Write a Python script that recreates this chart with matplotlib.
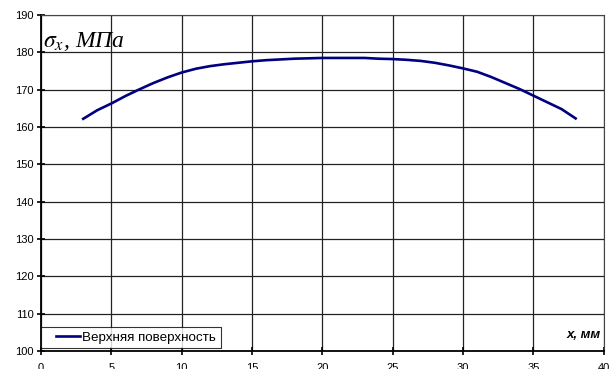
import matplotlib
matplotlib.use("Agg")
from matplotlib import pyplot as plt
from matplotlib.legend_handler import HandlerLine2D

plt.rcParams['font.family'] = ['Liberation Sans', 'DejaVu Sans']
plt.rcParams['mathtext.fontset'] = 'stix'

# напряжения на верхней поверхности
x_mm = list(range(3, 39))
sigma = [162.2, 164.5, 166.3, 168.3, 170.1, 171.8, 173.3, 174.6, 175.6, 176.3,
         176.8, 177.2, 177.6, 177.9, 178.1, 178.3, 178.4, 178.5, 178.5, 178.5,
         178.5, 178.3, 178.2, 178.0, 177.7, 177.2, 176.5, 175.7, 174.8, 173.4,
         171.8, 170.2, 168.4, 166.6, 164.8, 162.3]
xticks = [0, 5, 10, 15, 20, 25, 30, 35, 40]
yticks = [100, 110, 120, 130, 140, 150, 160, 170, 180, 190]

fig = plt.figure(figsize=(6.15, 3.69), dpi=100)
ax = fig.add_axes([0.0667, 0.0488, 0.915, 0.9105])

line, = ax.plot(x_mm, sigma, color='#000080', lw=1.9, label='Верхняя поверхность')

ax.set_xlim(0, 40)
ax.set_ylim(100, 190)
ax.set_xticks(xticks)
ax.set_yticks(yticks)
ax.grid(True, color='#222222', lw=0.9)
ax.set_axisbelow(True)
for s in ['top', 'right']:
    ax.spines[s].set_color('#444444')
    ax.spines[s].set_linewidth(0.8)
for s in ['left', 'bottom']:
    ax.spines[s].set_color('black')
    ax.spines[s].set_linewidth(1.3)
ax.tick_params(direction='inout', length=6, width=1.2, labelsize=8, pad=2)
ax.tick_params(axis='x', pad=6)

ax.text(0.004, 0.905, r'$\sigma_x$, МПа', transform=ax.transAxes,
        family=['Liberation Serif'], style='italic', fontsize=17)
ax.text(0.995, 0.03, 'x, мм', transform=ax.transAxes, ha='right', va='bottom',
        fontsize=9.5, fontweight='bold', style='italic')

leg = ax.legend(loc='lower left', bbox_to_anchor=(0, 0.008), fontsize=9.6,
                frameon=True, fancybox=False, borderaxespad=0,
                handlelength=2.6, handletextpad=0.15, borderpad=0.35,
                handler_map={line: HandlerLine2D(xpad=0.75)})
leg.get_frame().set_edgecolor('black')
leg.get_frame().set_linewidth(0.8)

fig.savefig('out.png', dpi=100)
